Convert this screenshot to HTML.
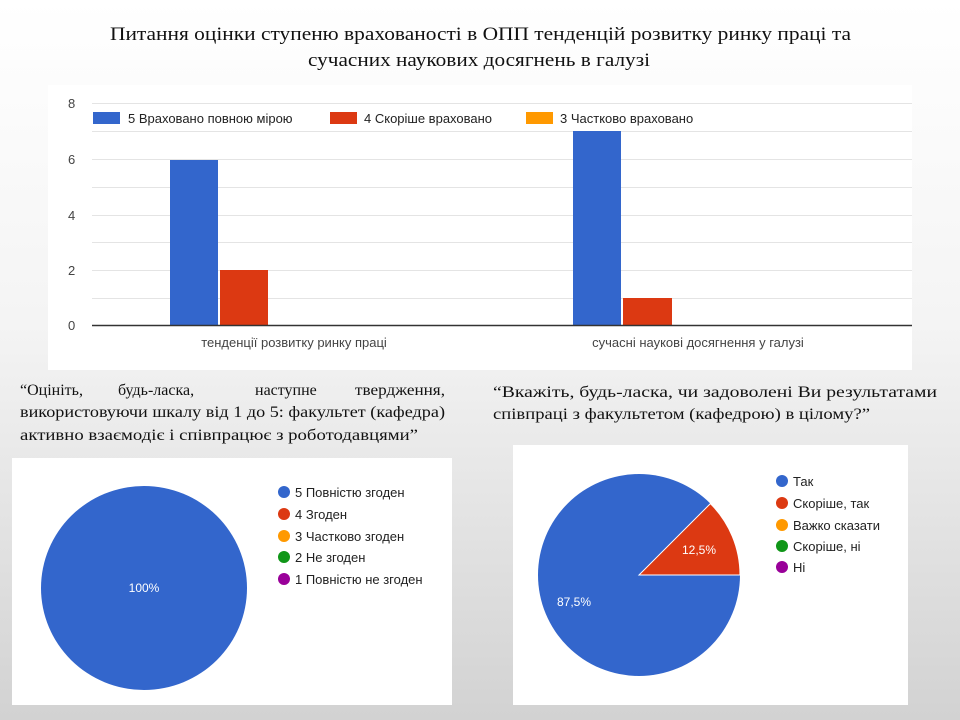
<!DOCTYPE html>
<html><head><meta charset="utf-8"><style>
html,body{margin:0;padding:0}
body{width:960px;height:720px;overflow:hidden;background:linear-gradient(#ffffff 0%,#f4f4f4 45%,#d2d2d2 100%)}
</style></head><body>
<svg width="960" height="720" xmlns="http://www.w3.org/2000/svg" style="position:absolute;left:0;top:0">
<g font-family="Liberation Serif, serif" fill="#111" font-size="19">
<text x="110" y="40" textLength="741" lengthAdjust="spacingAndGlyphs">Питання оцінки ступеню врахованості в ОПП тенденцій розвитку ринку праці та</text>
<text x="308" y="66" textLength="342" lengthAdjust="spacingAndGlyphs">сучасних наукових досягнень в галузі</text>
</g>
<rect x="48" y="85" width="864" height="285" fill="#fff"/>
<g stroke="#e4e4e4" stroke-width="1">
<line x1="92" y1="103.5" x2="912" y2="103.5"/><line x1="92" y1="131.5" x2="912" y2="131.5"/>
<line x1="92" y1="159.5" x2="912" y2="159.5"/><line x1="92" y1="187.5" x2="912" y2="187.5"/>
<line x1="92" y1="215.5" x2="912" y2="215.5"/><line x1="92" y1="242.5" x2="912" y2="242.5"/>
<line x1="92" y1="270.5" x2="912" y2="270.5"/><line x1="92" y1="298.5" x2="912" y2="298.5"/>
</g>
<g font-family="Liberation Sans, sans-serif" font-size="13" fill="#444">
<text x="68" y="108">8</text><text x="68" y="164">6</text><text x="68" y="220">4</text><text x="68" y="275">2</text><text x="68" y="330">0</text>
<text x="294" y="347" text-anchor="middle">тенденції розвитку ринку праці</text>
<text x="698" y="347" text-anchor="middle">сучасні наукові досягнення у галузі</text>
</g>
<rect x="93" y="112" width="27" height="12" fill="#3366cc"/>
<rect x="330" y="112" width="27" height="12" fill="#dc3912"/>
<rect x="526" y="112" width="27" height="12" fill="#ff9900"/>
<g font-family="Liberation Sans, sans-serif" font-size="13" fill="#222">
<text x="128" y="123">5 Враховано повною мірою</text>
<text x="364" y="123">4 Скоріше враховано</text>
<text x="560" y="123">3 Частково враховано</text>
</g>
<rect x="170" y="160" width="48" height="165" fill="#3366cc"/>
<rect x="220" y="270" width="48" height="55" fill="#dc3912"/>
<rect x="573" y="131" width="48" height="194" fill="#3366cc"/>
<rect x="623" y="298" width="49" height="27" fill="#dc3912"/>
<line x1="92" y1="325.5" x2="912" y2="325.5" stroke="#333" stroke-width="1.5"/>
<g font-family="Liberation Serif, serif" font-size="16" fill="#111">
<text x="20" y="395">“Оцініть,</text><text x="118" y="395">будь-ласка,</text><text x="255" y="395">наступне</text><text x="355" y="395" textLength="90" lengthAdjust="spacingAndGlyphs">твердження,</text>
<text x="20" y="417" textLength="425" lengthAdjust="spacingAndGlyphs">використовуючи шкалу від 1 до 5: факультет (кафедра)</text>
<text x="20" y="440" textLength="398" lengthAdjust="spacingAndGlyphs">активно взаємодіє і співпрацює з роботодавцями”</text>
<text x="493" y="397" textLength="444" lengthAdjust="spacingAndGlyphs">“Вкажіть, будь-ласка, чи задоволені Ви результатами</text>
<text x="493" y="419" textLength="377" lengthAdjust="spacingAndGlyphs">співпраці з факультетом (кафедрою) в цілому?”</text>
</g>
<rect x="12" y="458" width="440" height="247" fill="#fff"/>
<ellipse cx="144" cy="588" rx="103" ry="102" fill="#3366cc"/>
<text x="144" y="592" text-anchor="middle" font-family="Liberation Sans, sans-serif" font-size="12" fill="#fff">100%</text>
<g font-family="Liberation Sans, sans-serif" font-size="13" fill="#222">
<circle cx="284" cy="492" r="6" fill="#3366cc"/><text x="295" y="497">5 Повністю згоден</text>
<circle cx="284" cy="514" r="6" fill="#dc3912"/><text x="295" y="519">4 Згоден</text>
<circle cx="284" cy="536" r="6" fill="#ff9900"/><text x="295" y="541">3 Частково згоден</text>
<circle cx="284" cy="557" r="6" fill="#109618"/><text x="295" y="562">2 Не згоден</text>
<circle cx="284" cy="579" r="6" fill="#990099"/><text x="295" y="584">1 Повністю не згоден</text>
</g>
<rect x="513" y="445" width="395" height="260" fill="#fff"/>
<circle cx="639" cy="575" r="101" fill="#3366cc"/>
<path d="M639 575 L740 575 A101 101 0 0 0 710.4 503.6 Z" fill="#dc3912" stroke="#fff" stroke-width="1"/>
<g font-family="Liberation Sans, sans-serif" font-size="12" fill="#fff">
<text x="682" y="554">12,5%</text><text x="557" y="606">87,5%</text>
</g>
<g font-family="Liberation Sans, sans-serif" font-size="13" fill="#222">
<circle cx="782" cy="481" r="6" fill="#3366cc"/><text x="793" y="486">Так</text>
<circle cx="782" cy="503" r="6" fill="#dc3912"/><text x="793" y="508">Скоріше, так</text>
<circle cx="782" cy="525" r="6" fill="#ff9900"/><text x="793" y="530">Важко сказати</text>
<circle cx="782" cy="546" r="6" fill="#109618"/><text x="793" y="551">Скоріше, ні</text>
<circle cx="782" cy="567" r="6" fill="#990099"/><text x="793" y="572">Ні</text>
</g>
</svg>
</body></html>
